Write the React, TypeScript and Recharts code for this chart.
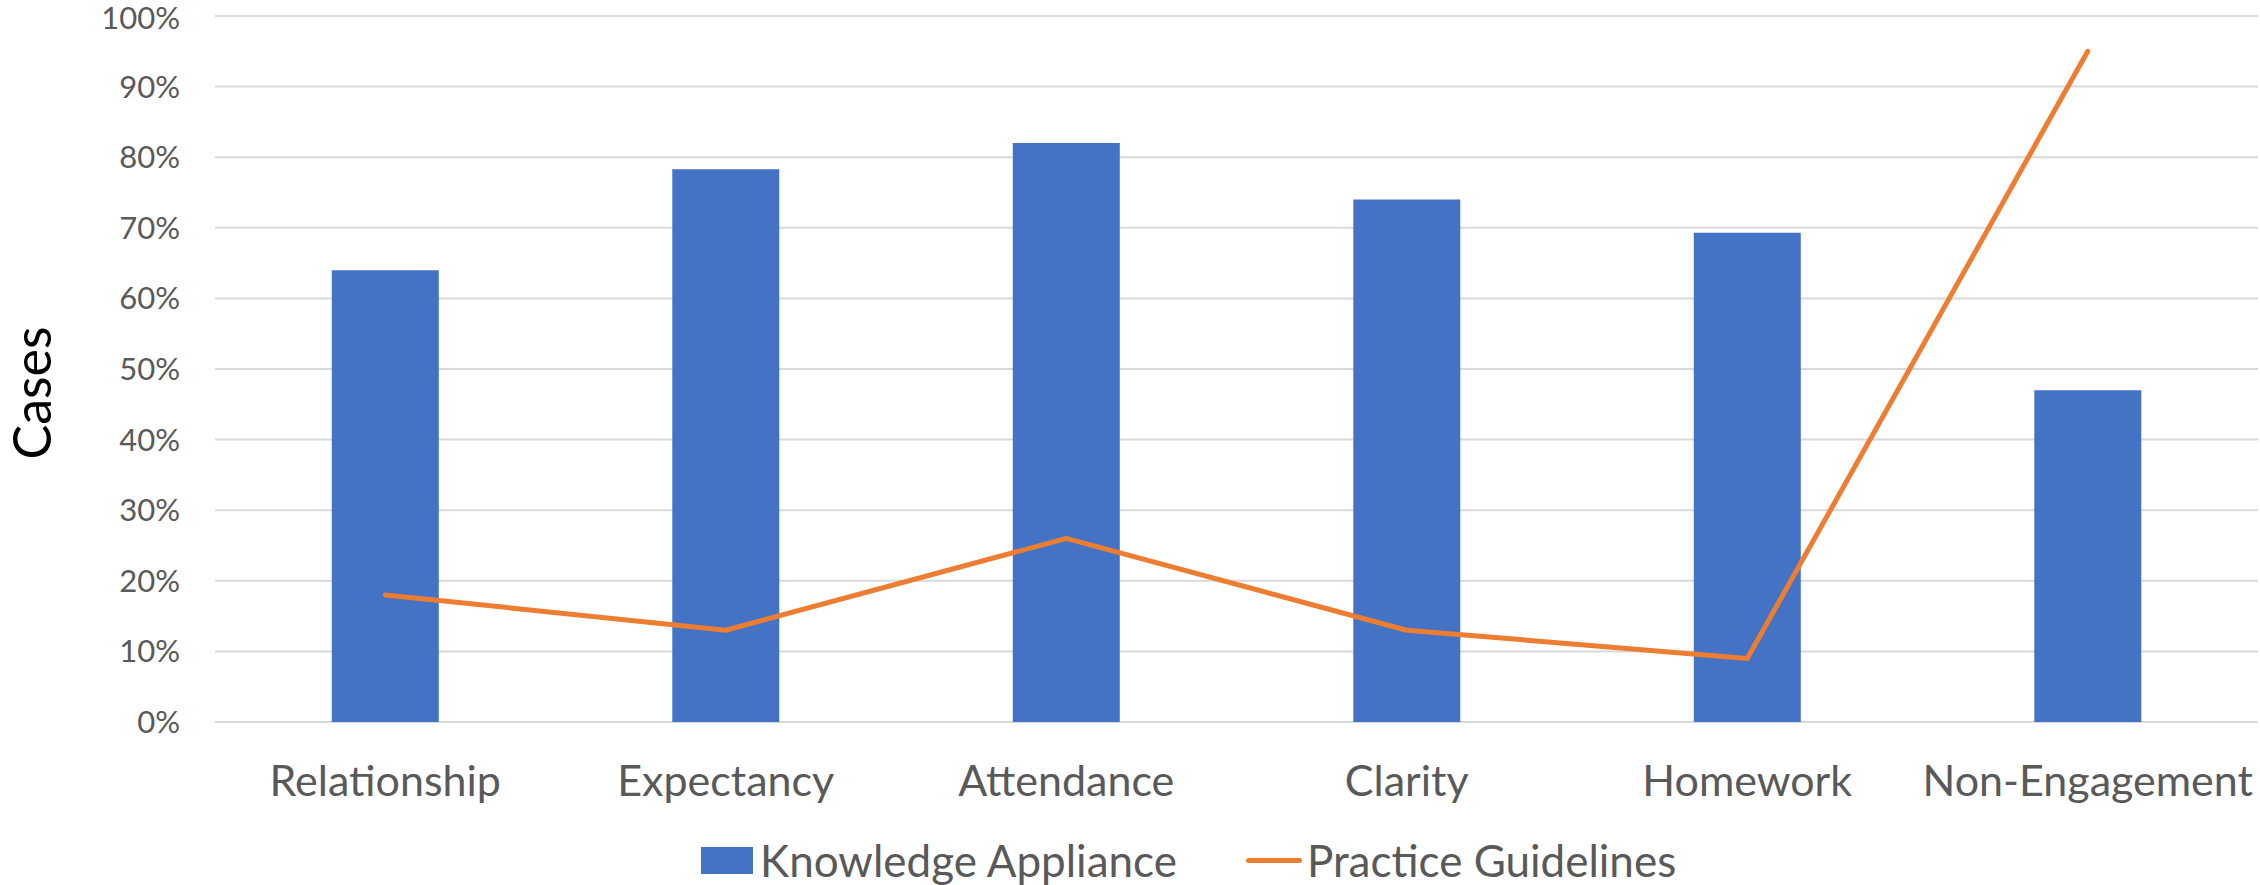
import React from 'react';
import {
  ComposedChart, Bar, Line, XAxis, YAxis, CartesianGrid, Legend
} from 'recharts';

const categories = ['Relationship', 'Expectancy', 'Attendance', 'Clarity', 'Homework', 'Non-Engagement'];
const knowledgeAppliance = [64, 78.3, 82, 74, 69.3, 47];
const practiceGuidelines = [18, 13, 26, 13, 9, 95];
const yTicks = [0, 10, 20, 30, 40, 50, 60, 70, 80, 90, 100];

const FONT = 'Lato, "Open Sans", sans-serif';
const TEXT = '#595959';
const BLUE = '#4472c4';
const ORANGE = '#ed7d31';

const chartData = categories.map((name, i) => ({
  name,
  knowledge: knowledgeAppliance[i],
  practice: practiceGuidelines[i],
}));

// legend drawn by hand so the swatch sizes match the office style
const LegendContent = () => (
  <div style={{ display: 'flex', alignItems: 'center', paddingLeft: 701, paddingTop: 12, fontFamily: FONT, fontSize: 44, color: TEXT }}>
    <span style={{ display: 'inline-block', width: 52, height: 27, background: BLUE, marginRight: 7 }} />
    <span>Knowledge Appliance</span>
    <span style={{ display: 'inline-block', width: 56, height: 5, borderRadius: 3, background: ORANGE, marginLeft: 69, marginRight: 5 }} />
    <span>Practice Guidelines</span>
  </div>
);

const App: React.FC = () => {
  return (
    <div style={{ width: 2260, height: 885, background: '#fff', position: 'relative' }}>
      <style>{'body{margin:0}'}</style>
      <div
        style={{
          position: 'absolute', left: 31, top: 393, transform: 'translate(-50%, -50%) rotate(-90deg)',
          fontFamily: FONT, fontSize: 52, color: '#000', whiteSpace: 'nowrap', lineHeight: 1,
        }}
      >
        Cases
      </div>
      <ComposedChart
        width={2260}
        height={885}
        data={chartData}
        margin={{ top: 16, right: 2, left: 0, bottom: 0 }}
        barCategoryGap="34.3%"
      >
        <CartesianGrid vertical={false} stroke="#d9d9d9" strokeWidth={2} />
        <XAxis
          dataKey="name"
          axisLine={false}
          tickLine={false}
          tickSize={0}
          tickMargin={43}
          height={100}
          interval={0}
          tick={{ fill: TEXT, fontSize: 43, fontFamily: FONT }}
        />
        <YAxis
          domain={[0, 100]}
          ticks={yTicks}
          tickFormatter={(v) => `${v}%`}
          axisLine={false}
          tickLine={false}
          tickSize={0}
          tickMargin={35}
          width={215}
          tick={{ fill: TEXT, fontSize: 31, fontFamily: FONT }}
        />
        <Legend verticalAlign="bottom" align="left" height={63} content={<LegendContent />} />
        <Bar dataKey="knowledge" name="Knowledge Appliance" fill={BLUE} isAnimationActive={false} />
        <Line
          dataKey="practice"
          name="Practice Guidelines"
          type="linear"
          stroke={ORANGE}
          strokeWidth={5}
          strokeLinecap="round"
          strokeLinejoin="round"
          dot={false}
          activeDot={false}
          isAnimationActive={false}
        />
      </ComposedChart>
    </div>
  );
};

export default App;
